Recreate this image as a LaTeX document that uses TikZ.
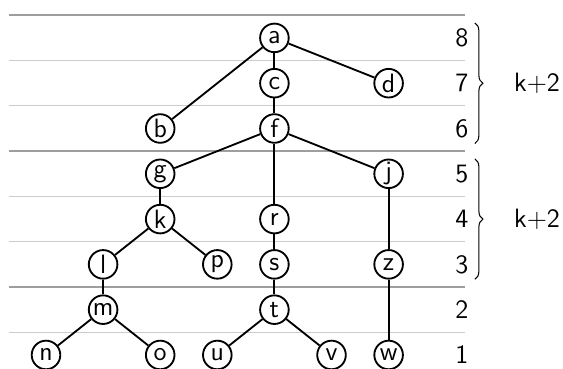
\documentclass[tikz,border=0pt]{standalone}
\usetikzlibrary{decorations.pathreplacing}
\begin{document}
\begin{tikzpicture}[x=24.76pt,y=19.64pt,font=\sffamily\fontsize{11.5}{13}\selectfont,
  vert/.style={circle,draw,line width=0.8pt,minimum size=12.4pt,inner sep=0.5pt},
  edge/.style={line width=0.8pt},
  majorline/.style={draw=black!38,line width=0.8pt},
  minorline/.style={draw=black!20,line width=0.45pt},
  levelbrace/.style={decorate,decoration={brace,amplitude=3.5pt},line width=0.45pt}]
\useasboundingbox (-0.8056,0.691) rectangle (9.054,8.837);
% level separators
\foreach \l in {1.5,3.5,4.5,6.5,7.5}
  \draw[minorline] (-0.648,\l) -- (7.338,\l);
\foreach \l in {2.5,5.5,8.5}
  \draw[majorline] (-0.648,\l) -- (7.338,\l);
% level numbers
\foreach \l in {1,...,8}
  \node (lev\l) at (7.285,\l) {\l};
% vertices
\node[vert] (a) at (4,8) {a};
\node[vert] (c) at (4,7) {c};
\node[vert] (d) at (6,7) {d};
\node[vert] (b) at (2,6) {b};
\node[vert] (f) at (4,6) {f};
\node[vert] (g) at (2,5) {g};
\node[vert] (j) at (6,5) {j};
\node[vert] (k) at (2,4) {k};
\node[vert] (r) at (4,4) {r};
\node[vert] (l) at (1,3) {l};
\node[vert] (p) at (3,3) {p};
\node[vert] (s) at (4,3) {s};
\node[vert] (z) at (6,3) {z};
\node[vert] (m) at (1,2) {m};
\node[vert] (t) at (4,2) {t};
\node[vert] (n) at (0,1) {n};
\node[vert] (o) at (2,1) {o};
\node[vert] (u) at (3,1) {u};
\node[vert] (v) at (5,1) {v};
\node[vert] (w) at (6,1) {w};
% tree edges
\foreach \u/\v in {a/b,a/c,a/d,c/f,f/g,f/r,f/j,g/k,k/l,k/p,l/m,m/n,m/o,
                   r/s,s/t,t/u,t/v,j/z,z/w}
  \draw[edge] (\u) -- (\v);
% braces grouping the levels
\coordinate (b1top) at (7.51,8.33);
\coordinate (b1bot) at (7.51,5.67);
\coordinate (b2top) at (7.51,5.33);
\coordinate (b2bot) at (7.51,2.67);
\draw[levelbrace] (b1top) -- (b1bot);
\draw[levelbrace] (b2top) -- (b2bot);
\node (k1) at (8.6,7) {k+2};
\node (k2) at (8.6,4) {k+2};
\end{tikzpicture}
\end{document}
